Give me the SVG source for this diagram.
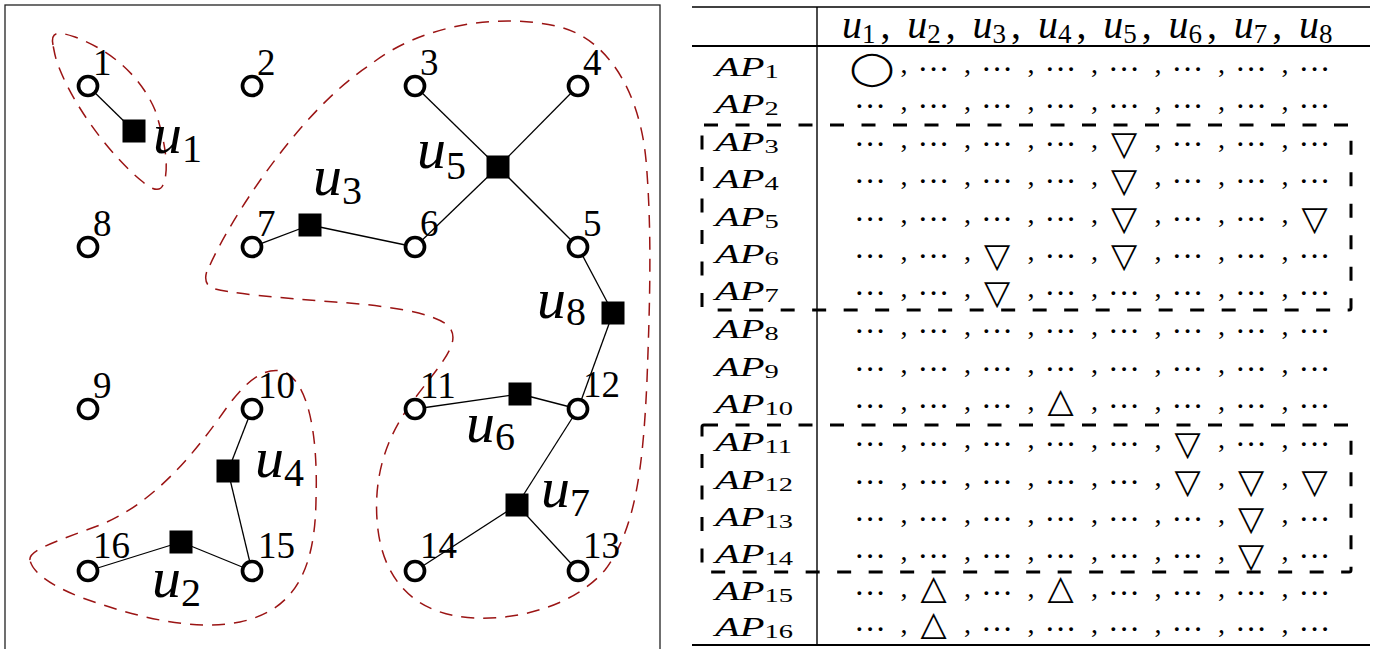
<svg xmlns="http://www.w3.org/2000/svg" width="1376" height="649" viewBox="0 0 1376 649">
<style>
.frame{fill:none;stroke:#222;stroke-width:1.3}
.region{fill:none;stroke:#9b1414;stroke-width:1.5;stroke-dasharray:13 9}
.edge{stroke:#000;stroke-width:1.3}
.ap{fill:#fff;stroke:#000;stroke-width:3.7}
.usr{fill:#000}
.num{font-family:"Liberation Serif",serif;font-size:37px;fill:#000}
.ul{font-family:"Liberation Serif",serif;font-style:italic;font-size:58px;fill:#000}
.ul .s{font-style:normal;font-size:40px}
.hd{font-family:"Liberation Serif",serif;font-style:italic;font-size:40px;fill:#000}
.hd .s{font-style:normal;font-size:27px}
.hd .c{font-style:normal}
.rule{stroke:#000;stroke-width:1.4}
.box{fill:none;stroke:#000;stroke-width:3;stroke-dasharray:14 17.5}
.apl{font-family:"Liberation Serif",serif;font-style:italic;font-size:27px;fill:#000}
.apl .s{font-style:normal;font-size:19px}
.cell{font-family:"Liberation Serif",serif;text-anchor:middle;fill:#000}
.cell .d{font-size:32px}
.cell .c{font-size:28px}
.sym{font-family:"DejaVu Sans",sans-serif;text-anchor:middle;fill:#000;font-size:34px}
</style>
<rect class="frame" x="5" y="5" width="655" height="660"/>
<g id="regions">
<path class="region" d="M53,45 C50,30 60,32 75,37 C110,50 140,75 155,110 C165,140 170,170 163,185 C160,192 152,190 143,182 C115,160 75,110 58,65 C55,57 54,50 53,45 Z"/>
<path class="region" d="M210,265 C230,220 300,110 370,65 C420,25 500,12 560,27 C610,40 640,95 646,160 C652,230 650,300 647,380 C643,470 635,530 605,570 C575,605 520,620 475,618 C420,616 385,585 378,530 C372,480 385,440 410,405 C435,370 462,345 450,328 C438,312 380,305 335,302 C280,298 225,293 212,288 C203,284 205,272 210,265 Z"/>
<path class="region" d="M30,560 C28,550 60,540 100,525 C150,505 190,460 225,410 C245,382 265,365 285,372 C310,385 318,440 316,500 C315,570 295,610 240,622 C190,632 130,615 80,597 C50,585 32,572 30,560 Z"/>
</g>
<g id="connectors">
<line class="edge" x1="88" y1="86" x2="134" y2="131"/>
<line class="edge" x1="252" y1="247" x2="310" y2="225"/>
<line class="edge" x1="310" y1="225" x2="415" y2="247"/>
<line class="edge" x1="415" y1="86" x2="498" y2="167"/>
<line class="edge" x1="578" y1="86" x2="498" y2="167"/>
<line class="edge" x1="415" y1="247" x2="498" y2="167"/>
<line class="edge" x1="578" y1="247" x2="498" y2="167"/>
<line class="edge" x1="578" y1="247" x2="613" y2="313"/>
<line class="edge" x1="613" y1="313" x2="578" y2="409"/>
<line class="edge" x1="252" y1="409" x2="228" y2="471"/>
<line class="edge" x1="228" y1="471" x2="252" y2="571"/>
<line class="edge" x1="88" y1="571" x2="181" y2="542"/>
<line class="edge" x1="181" y1="542" x2="252" y2="571"/>
<line class="edge" x1="415" y1="409" x2="520" y2="394"/>
<line class="edge" x1="520" y1="394" x2="578" y2="409"/>
<line class="edge" x1="578" y1="409" x2="517" y2="505"/>
<line class="edge" x1="517" y1="505" x2="415" y2="571"/>
<line class="edge" x1="517" y1="505" x2="578" y2="571"/>
</g>
<g id="ap-1"><circle class="ap" cx="88" cy="86" r="9.5"/><text class="num" x="93" y="75">1</text></g>
<g id="ap-2"><circle class="ap" cx="252" cy="86" r="9.5"/><text class="num" x="257" y="75">2</text></g>
<g id="ap-3"><circle class="ap" cx="415" cy="86" r="9.5"/><text class="num" x="420" y="75">3</text></g>
<g id="ap-4"><circle class="ap" cx="578" cy="86" r="9.5"/><text class="num" x="583" y="75">4</text></g>
<g id="ap-5"><circle class="ap" cx="578" cy="247" r="9.5"/><text class="num" x="583" y="236">5</text></g>
<g id="ap-6"><circle class="ap" cx="415" cy="247" r="9.5"/><text class="num" x="420" y="236">6</text></g>
<g id="ap-7"><circle class="ap" cx="252" cy="247" r="9.5"/><text class="num" x="257" y="236">7</text></g>
<g id="ap-8"><circle class="ap" cx="88" cy="247" r="9.5"/><text class="num" x="93" y="236">8</text></g>
<g id="ap-9"><circle class="ap" cx="88" cy="409" r="9.5"/><text class="num" x="93" y="398">9</text></g>
<g id="ap-10"><circle class="ap" cx="252" cy="409" r="9.5"/><text class="num" x="258" y="398">10</text></g>
<g id="ap-11"><circle class="ap" cx="415" cy="409" r="9.5"/><text class="num" x="420" y="398">11</text></g>
<g id="ap-12"><circle class="ap" cx="578" cy="409" r="9.5"/><text class="num" x="583" y="397">12</text></g>
<g id="ap-13"><circle class="ap" cx="578" cy="571" r="9.5"/><text class="num" x="583" y="558">13</text></g>
<g id="ap-14"><circle class="ap" cx="415" cy="571" r="9.5"/><text class="num" x="420" y="558">14</text></g>
<g id="ap-15"><circle class="ap" cx="252" cy="571" r="9.5"/><text class="num" x="258" y="558">15</text></g>
<g id="ap-16"><circle class="ap" cx="88" cy="571" r="9.5"/><text class="num" x="93" y="558">16</text></g>
<g id="u-1"><rect class="usr" x="122.5" y="119.5" width="23" height="23"/><text class="ul" x="153" y="153">u<tspan class="s" dy="9">1</tspan></text></g>
<g id="u-2"><rect class="usr" x="169.5" y="530.5" width="23" height="23"/><text class="ul" x="152" y="597">u<tspan class="s" dy="9">2</tspan></text></g>
<g id="u-3"><rect class="usr" x="298.5" y="213.5" width="23" height="23"/><text class="ul" x="313" y="195">u<tspan class="s" dy="9">3</tspan></text></g>
<g id="u-4"><rect class="usr" x="216.5" y="459.5" width="23" height="23"/><text class="ul" x="255" y="477">u<tspan class="s" dy="9">4</tspan></text></g>
<g id="u-5"><rect class="usr" x="486.5" y="155.5" width="23" height="23"/><text class="ul" x="417" y="168">u<tspan class="s" dy="11">5</tspan></text></g>
<g id="u-6"><rect class="usr" x="508.5" y="382.5" width="23" height="23"/><text class="ul" x="466" y="442">u<tspan class="s" dy="8">6</tspan></text></g>
<g id="u-7"><rect class="usr" x="505.5" y="493.5" width="23" height="23"/><text class="ul" x="541" y="507">u<tspan class="s" dy="9">7</tspan></text></g>
<g id="u-8"><rect class="usr" x="601.5" y="301.5" width="23" height="23"/><text class="ul" x="537" y="318">u<tspan class="s" dy="7">8</tspan></text></g>
<g id="table">
<line class="rule" x1="692" y1="7" x2="1370" y2="7"/>
<line class="rule" x1="692" y1="46" x2="1370" y2="46" style="stroke-width:1.8"/>
<line class="rule" x1="692" y1="645" x2="1370" y2="645" style="stroke-width:1.8"/>
<line class="rule" x1="817" y1="7" x2="817" y2="645"/>
<rect class="box" x="702" y="125" width="649" height="185" rx="2"/>
<rect class="box" x="702" y="425" width="649" height="147" rx="2"/>
<text class="hd" y="38"><tspan x="842">u</tspan><tspan class="s" dy="5">1</tspan><tspan class="c" dy="-5" dx="5">,</tspan><tspan x="907.3">u</tspan><tspan class="s" dy="5">2</tspan><tspan class="c" dy="-5" dx="5">,</tspan><tspan x="972.6">u</tspan><tspan class="s" dy="5">3</tspan><tspan class="c" dy="-5" dx="5">,</tspan><tspan x="1037.9">u</tspan><tspan class="s" dy="5">4</tspan><tspan class="c" dy="-5" dx="5">,</tspan><tspan x="1103.2">u</tspan><tspan class="s" dy="5">5</tspan><tspan class="c" dy="-5" dx="5">,</tspan><tspan x="1168.5">u</tspan><tspan class="s" dy="5">6</tspan><tspan class="c" dy="-5" dx="5">,</tspan><tspan x="1233.8">u</tspan><tspan class="s" dy="5">7</tspan><tspan class="c" dy="-5" dx="5">,</tspan><tspan x="1299.1">u</tspan><tspan class="s" dy="5">8</tspan></text>
<g id="row-1"><text class="apl" transform="translate(715,76) scale(1.5,1)">AP<tspan class="s" dy="2">1</tspan></text>
<text class="cell"><tspan class="c" x="904" y="73">,</tspan><tspan class="d" x="933.5" y="79.7">···</tspan><tspan class="c" x="967.5" y="73">,</tspan><tspan class="d" x="997" y="79.7">···</tspan><tspan class="c" x="1031" y="73">,</tspan><tspan class="d" x="1060.5" y="79.7">···</tspan><tspan class="c" x="1094.5" y="73">,</tspan><tspan class="d" x="1124" y="79.7">···</tspan><tspan class="c" x="1158" y="73">,</tspan><tspan class="d" x="1187.5" y="79.7">···</tspan><tspan class="c" x="1221.5" y="73">,</tspan><tspan class="d" x="1251" y="79.7">···</tspan><tspan class="c" x="1285" y="73">,</tspan><tspan class="d" x="1314.5" y="79.7">···</tspan></text>
<text class="sym" transform="translate(872,78.5) scale(1.22,1)" style="font-size:33px">◯</text></g>
<g id="row-2"><text class="apl" transform="translate(715,113) scale(1.5,1)">AP<tspan class="s" dy="2">2</tspan></text>
<text class="cell"><tspan class="d" x="870" y="116.7">···</tspan><tspan class="c" x="904" y="110">,</tspan><tspan class="d" x="933.5" y="116.7">···</tspan><tspan class="c" x="967.5" y="110">,</tspan><tspan class="d" x="997" y="116.7">···</tspan><tspan class="c" x="1031" y="110">,</tspan><tspan class="d" x="1060.5" y="116.7">···</tspan><tspan class="c" x="1094.5" y="110">,</tspan><tspan class="d" x="1124" y="116.7">···</tspan><tspan class="c" x="1158" y="110">,</tspan><tspan class="d" x="1187.5" y="116.7">···</tspan><tspan class="c" x="1221.5" y="110">,</tspan><tspan class="d" x="1251" y="116.7">···</tspan><tspan class="c" x="1285" y="110">,</tspan><tspan class="d" x="1314.5" y="116.7">···</tspan></text></g>
<g id="row-3"><text class="apl" transform="translate(715,151) scale(1.5,1)">AP<tspan class="s" dy="2">3</tspan></text>
<text class="cell"><tspan class="d" x="870" y="154.7">···</tspan><tspan class="c" x="904" y="148">,</tspan><tspan class="d" x="933.5" y="154.7">···</tspan><tspan class="c" x="967.5" y="148">,</tspan><tspan class="d" x="997" y="154.7">···</tspan><tspan class="c" x="1031" y="148">,</tspan><tspan class="d" x="1060.5" y="154.7">···</tspan><tspan class="c" x="1094.5" y="148">,</tspan><tspan class="c" x="1158" y="148">,</tspan><tspan class="d" x="1187.5" y="154.7">···</tspan><tspan class="c" x="1221.5" y="148">,</tspan><tspan class="d" x="1251" y="154.7">···</tspan><tspan class="c" x="1285" y="148">,</tspan><tspan class="d" x="1314.5" y="154.7">···</tspan></text>
<text class="sym" x="1124" y="155">▽</text></g>
<g id="row-4"><text class="apl" transform="translate(715,188) scale(1.5,1)">AP<tspan class="s" dy="2">4</tspan></text>
<text class="cell"><tspan class="d" x="870" y="191.7">···</tspan><tspan class="c" x="904" y="185">,</tspan><tspan class="d" x="933.5" y="191.7">···</tspan><tspan class="c" x="967.5" y="185">,</tspan><tspan class="d" x="997" y="191.7">···</tspan><tspan class="c" x="1031" y="185">,</tspan><tspan class="d" x="1060.5" y="191.7">···</tspan><tspan class="c" x="1094.5" y="185">,</tspan><tspan class="c" x="1158" y="185">,</tspan><tspan class="d" x="1187.5" y="191.7">···</tspan><tspan class="c" x="1221.5" y="185">,</tspan><tspan class="d" x="1251" y="191.7">···</tspan><tspan class="c" x="1285" y="185">,</tspan><tspan class="d" x="1314.5" y="191.7">···</tspan></text>
<text class="sym" x="1124" y="192">▽</text></g>
<g id="row-5"><text class="apl" transform="translate(715,226) scale(1.5,1)">AP<tspan class="s" dy="2">5</tspan></text>
<text class="cell"><tspan class="d" x="870" y="229.7">···</tspan><tspan class="c" x="904" y="223">,</tspan><tspan class="d" x="933.5" y="229.7">···</tspan><tspan class="c" x="967.5" y="223">,</tspan><tspan class="d" x="997" y="229.7">···</tspan><tspan class="c" x="1031" y="223">,</tspan><tspan class="d" x="1060.5" y="229.7">···</tspan><tspan class="c" x="1094.5" y="223">,</tspan><tspan class="c" x="1158" y="223">,</tspan><tspan class="d" x="1187.5" y="229.7">···</tspan><tspan class="c" x="1221.5" y="223">,</tspan><tspan class="d" x="1251" y="229.7">···</tspan><tspan class="c" x="1285" y="223">,</tspan></text>
<text class="sym" x="1124" y="230">▽</text><text class="sym" x="1314.5" y="230">▽</text></g>
<g id="row-6"><text class="apl" transform="translate(715,263) scale(1.5,1)">AP<tspan class="s" dy="2">6</tspan></text>
<text class="cell"><tspan class="d" x="870" y="266.7">···</tspan><tspan class="c" x="904" y="260">,</tspan><tspan class="d" x="933.5" y="266.7">···</tspan><tspan class="c" x="967.5" y="260">,</tspan><tspan class="c" x="1031" y="260">,</tspan><tspan class="d" x="1060.5" y="266.7">···</tspan><tspan class="c" x="1094.5" y="260">,</tspan><tspan class="c" x="1158" y="260">,</tspan><tspan class="d" x="1187.5" y="266.7">···</tspan><tspan class="c" x="1221.5" y="260">,</tspan><tspan class="d" x="1251" y="266.7">···</tspan><tspan class="c" x="1285" y="260">,</tspan><tspan class="d" x="1314.5" y="266.7">···</tspan></text>
<text class="sym" x="997" y="267">▽</text><text class="sym" x="1124" y="267">▽</text></g>
<g id="row-7"><text class="apl" transform="translate(715,300) scale(1.5,1)">AP<tspan class="s" dy="2">7</tspan></text>
<text class="cell"><tspan class="d" x="870" y="303.7">···</tspan><tspan class="c" x="904" y="297">,</tspan><tspan class="d" x="933.5" y="303.7">···</tspan><tspan class="c" x="967.5" y="297">,</tspan><tspan class="c" x="1031" y="297">,</tspan><tspan class="d" x="1060.5" y="303.7">···</tspan><tspan class="c" x="1094.5" y="297">,</tspan><tspan class="d" x="1124" y="303.7">···</tspan><tspan class="c" x="1158" y="297">,</tspan><tspan class="d" x="1187.5" y="303.7">···</tspan><tspan class="c" x="1221.5" y="297">,</tspan><tspan class="d" x="1251" y="303.7">···</tspan><tspan class="c" x="1285" y="297">,</tspan><tspan class="d" x="1314.5" y="303.7">···</tspan></text>
<text class="sym" x="997" y="304">▽</text></g>
<g id="row-8"><text class="apl" transform="translate(715,338) scale(1.5,1)">AP<tspan class="s" dy="2">8</tspan></text>
<text class="cell"><tspan class="d" x="870" y="341.7">···</tspan><tspan class="c" x="904" y="335">,</tspan><tspan class="d" x="933.5" y="341.7">···</tspan><tspan class="c" x="967.5" y="335">,</tspan><tspan class="d" x="997" y="341.7">···</tspan><tspan class="c" x="1031" y="335">,</tspan><tspan class="d" x="1060.5" y="341.7">···</tspan><tspan class="c" x="1094.5" y="335">,</tspan><tspan class="d" x="1124" y="341.7">···</tspan><tspan class="c" x="1158" y="335">,</tspan><tspan class="d" x="1187.5" y="341.7">···</tspan><tspan class="c" x="1221.5" y="335">,</tspan><tspan class="d" x="1251" y="341.7">···</tspan><tspan class="c" x="1285" y="335">,</tspan><tspan class="d" x="1314.5" y="341.7">···</tspan></text></g>
<g id="row-9"><text class="apl" transform="translate(715,376) scale(1.5,1)">AP<tspan class="s" dy="2">9</tspan></text>
<text class="cell"><tspan class="d" x="870" y="379.7">···</tspan><tspan class="c" x="904" y="373">,</tspan><tspan class="d" x="933.5" y="379.7">···</tspan><tspan class="c" x="967.5" y="373">,</tspan><tspan class="d" x="997" y="379.7">···</tspan><tspan class="c" x="1031" y="373">,</tspan><tspan class="d" x="1060.5" y="379.7">···</tspan><tspan class="c" x="1094.5" y="373">,</tspan><tspan class="d" x="1124" y="379.7">···</tspan><tspan class="c" x="1158" y="373">,</tspan><tspan class="d" x="1187.5" y="379.7">···</tspan><tspan class="c" x="1221.5" y="373">,</tspan><tspan class="d" x="1251" y="379.7">···</tspan><tspan class="c" x="1285" y="373">,</tspan><tspan class="d" x="1314.5" y="379.7">···</tspan></text></g>
<g id="row-10"><text class="apl" transform="translate(715,413) scale(1.5,1)">AP<tspan class="s" dy="2">10</tspan></text>
<text class="cell"><tspan class="d" x="870" y="416.7">···</tspan><tspan class="c" x="904" y="410">,</tspan><tspan class="d" x="933.5" y="416.7">···</tspan><tspan class="c" x="967.5" y="410">,</tspan><tspan class="d" x="997" y="416.7">···</tspan><tspan class="c" x="1031" y="410">,</tspan><tspan class="c" x="1094.5" y="410">,</tspan><tspan class="d" x="1124" y="416.7">···</tspan><tspan class="c" x="1158" y="410">,</tspan><tspan class="d" x="1187.5" y="416.7">···</tspan><tspan class="c" x="1221.5" y="410">,</tspan><tspan class="d" x="1251" y="416.7">···</tspan><tspan class="c" x="1285" y="410">,</tspan><tspan class="d" x="1314.5" y="416.7">···</tspan></text>
<text class="sym" x="1060.5" y="412">△</text></g>
<g id="row-11"><text class="apl" transform="translate(715,451) scale(1.5,1)">AP<tspan class="s" dy="2">11</tspan></text>
<text class="cell"><tspan class="d" x="870" y="454.7">···</tspan><tspan class="c" x="904" y="448">,</tspan><tspan class="d" x="933.5" y="454.7">···</tspan><tspan class="c" x="967.5" y="448">,</tspan><tspan class="d" x="997" y="454.7">···</tspan><tspan class="c" x="1031" y="448">,</tspan><tspan class="d" x="1060.5" y="454.7">···</tspan><tspan class="c" x="1094.5" y="448">,</tspan><tspan class="d" x="1124" y="454.7">···</tspan><tspan class="c" x="1158" y="448">,</tspan><tspan class="c" x="1221.5" y="448">,</tspan><tspan class="d" x="1251" y="454.7">···</tspan><tspan class="c" x="1285" y="448">,</tspan><tspan class="d" x="1314.5" y="454.7">···</tspan></text>
<text class="sym" x="1187.5" y="455">▽</text></g>
<g id="row-12"><text class="apl" transform="translate(715,489) scale(1.5,1)">AP<tspan class="s" dy="2">12</tspan></text>
<text class="cell"><tspan class="d" x="870" y="492.7">···</tspan><tspan class="c" x="904" y="486">,</tspan><tspan class="d" x="933.5" y="492.7">···</tspan><tspan class="c" x="967.5" y="486">,</tspan><tspan class="d" x="997" y="492.7">···</tspan><tspan class="c" x="1031" y="486">,</tspan><tspan class="d" x="1060.5" y="492.7">···</tspan><tspan class="c" x="1094.5" y="486">,</tspan><tspan class="d" x="1124" y="492.7">···</tspan><tspan class="c" x="1158" y="486">,</tspan><tspan class="c" x="1221.5" y="486">,</tspan><tspan class="c" x="1285" y="486">,</tspan></text>
<text class="sym" x="1187.5" y="493">▽</text><text class="sym" x="1251" y="493">▽</text><text class="sym" x="1314.5" y="493">▽</text></g>
<g id="row-13"><text class="apl" transform="translate(715,526) scale(1.5,1)">AP<tspan class="s" dy="2">13</tspan></text>
<text class="cell"><tspan class="d" x="870" y="529.7">···</tspan><tspan class="c" x="904" y="523">,</tspan><tspan class="d" x="933.5" y="529.7">···</tspan><tspan class="c" x="967.5" y="523">,</tspan><tspan class="d" x="997" y="529.7">···</tspan><tspan class="c" x="1031" y="523">,</tspan><tspan class="d" x="1060.5" y="529.7">···</tspan><tspan class="c" x="1094.5" y="523">,</tspan><tspan class="d" x="1124" y="529.7">···</tspan><tspan class="c" x="1158" y="523">,</tspan><tspan class="d" x="1187.5" y="529.7">···</tspan><tspan class="c" x="1221.5" y="523">,</tspan><tspan class="c" x="1285" y="523">,</tspan><tspan class="d" x="1314.5" y="529.7">···</tspan></text>
<text class="sym" x="1251" y="530">▽</text></g>
<g id="row-14"><text class="apl" transform="translate(715,563) scale(1.5,1)">AP<tspan class="s" dy="2">14</tspan></text>
<text class="cell"><tspan class="d" x="870" y="566.7">···</tspan><tspan class="c" x="904" y="560">,</tspan><tspan class="d" x="933.5" y="566.7">···</tspan><tspan class="c" x="967.5" y="560">,</tspan><tspan class="d" x="997" y="566.7">···</tspan><tspan class="c" x="1031" y="560">,</tspan><tspan class="d" x="1060.5" y="566.7">···</tspan><tspan class="c" x="1094.5" y="560">,</tspan><tspan class="d" x="1124" y="566.7">···</tspan><tspan class="c" x="1158" y="560">,</tspan><tspan class="d" x="1187.5" y="566.7">···</tspan><tspan class="c" x="1221.5" y="560">,</tspan><tspan class="c" x="1285" y="560">,</tspan><tspan class="d" x="1314.5" y="566.7">···</tspan></text>
<text class="sym" x="1251" y="567">▽</text></g>
<g id="row-15"><text class="apl" transform="translate(715,600) scale(1.5,1)">AP<tspan class="s" dy="2">15</tspan></text>
<text class="cell"><tspan class="d" x="870" y="603.7">···</tspan><tspan class="c" x="904" y="597">,</tspan><tspan class="c" x="967.5" y="597">,</tspan><tspan class="d" x="997" y="603.7">···</tspan><tspan class="c" x="1031" y="597">,</tspan><tspan class="c" x="1094.5" y="597">,</tspan><tspan class="d" x="1124" y="603.7">···</tspan><tspan class="c" x="1158" y="597">,</tspan><tspan class="d" x="1187.5" y="603.7">···</tspan><tspan class="c" x="1221.5" y="597">,</tspan><tspan class="d" x="1251" y="603.7">···</tspan><tspan class="c" x="1285" y="597">,</tspan><tspan class="d" x="1314.5" y="603.7">···</tspan></text>
<text class="sym" x="933.5" y="599">△</text><text class="sym" x="1060.5" y="599">△</text></g>
<g id="row-16"><text class="apl" transform="translate(715,636) scale(1.5,1)">AP<tspan class="s" dy="2">16</tspan></text>
<text class="cell"><tspan class="d" x="870" y="639.7">···</tspan><tspan class="c" x="904" y="633">,</tspan><tspan class="c" x="967.5" y="633">,</tspan><tspan class="d" x="997" y="639.7">···</tspan><tspan class="c" x="1031" y="633">,</tspan><tspan class="d" x="1060.5" y="639.7">···</tspan><tspan class="c" x="1094.5" y="633">,</tspan><tspan class="d" x="1124" y="639.7">···</tspan><tspan class="c" x="1158" y="633">,</tspan><tspan class="d" x="1187.5" y="639.7">···</tspan><tspan class="c" x="1221.5" y="633">,</tspan><tspan class="d" x="1251" y="639.7">···</tspan><tspan class="c" x="1285" y="633">,</tspan><tspan class="d" x="1314.5" y="639.7">···</tspan></text>
<text class="sym" x="933.5" y="635">△</text></g>
</g>
</svg>
